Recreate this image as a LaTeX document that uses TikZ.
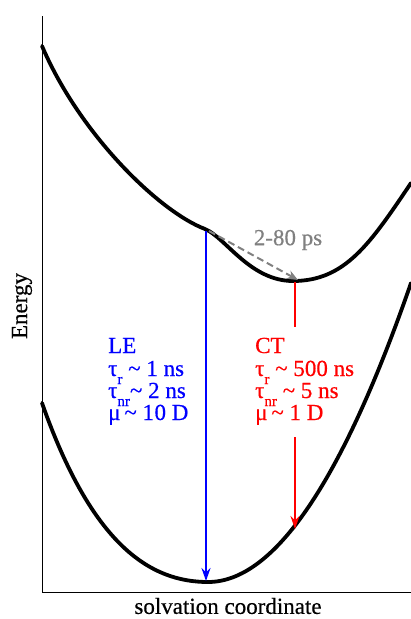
\documentclass[tikz,border=0pt]{standalone}
\usepackage{fontspec}
\setmainfont{Liberation Serif}[BoldFont=Liberation Serif,BoldFeatures={FakeBold=0.5}]
\usetikzlibrary{arrows.meta}
\newcommand{\sublow}[1]{\raisebox{-8pt}{\fontsize{15}{15}\selectfont #1}}

\begin{document}
\begin{tikzpicture}[x=1pt,y=-1pt,>=Stealth,font=\fontsize{23}{25}\selectfont\bfseries,
  curve/.style={line width=3.8pt,line cap=round,line join=round},
  axis/.style={line width=0.8pt},
  trans/.style={->,line width=2pt,shorten >=1pt,-{Stealth[length=13pt,width=9pt]}},
  info/.style={anchor=base west,inner sep=0pt}]
 \useasboundingbox (0,0) rectangle (411,619);
 % axes
 \coordinate (o) at (42,592);
 \coordinate (ytop) at (42,16);
 \coordinate (xend) at (411,592);
 \draw[axis] (ytop)--(o)--(xend);
 \node[rotate=90] (en) at (22,306){Energy};
 \node (sc) at (228,606){solvation coordinate};
 % excited state surface
 \draw[curve] (42,46) .. controls (80,135) and (160,212) .. (205,229)
   .. controls (225,237) and (250,281) .. (293,281)
   .. controls (345,281) and (370,244) .. (411,183);
 % ground state surface
 \draw[curve] (42,403) .. controls (92,545) and (150,582) .. (208,582)
   .. controls (274,582) and (342,482) .. (411,283);
 % transitions
 \coordinate (le) at (206,231);
 \coordinate (le0) at (206,582);
 \coordinate (ct) at (295,282);
 \coordinate (ct0) at (295,530);
 \draw[trans,blue] (le)--(le0);
 \draw[trans,red] (ct)--(ct0);
 \draw[->,gray,dashed,line width=2pt,dash pattern=on 7pt off 4pt,-{Stealth[length=11pt,width=9pt]}] (209,231)--(298,280);
 \node[gray] (et) at (288,240){2-80 ps};
 % LE properties
 \node[info,blue] (le1) at (108,353){LE};
 \node[info,blue] (le2) at (108,376){τ\sublow{r} \textasciitilde{} 1 ns};
 \node[info,blue] (le3) at (108,398){τ\sublow{nr}\textasciitilde{} 2 ns};
 \node[info,blue] (le4) at (108,420){μ\,\textasciitilde{} 1\kern0.5pt0 D};
 % CT properties
 \node[fill=white,inner sep=0pt,anchor=north,minimum width=30pt,minimum height=110pt] (ctbg) at (295,327){};
 \node[info,red] (ct1) at (255,353){CT};
 \node[info,red] (ct2) at (255,376){τ\sublow{r} \textasciitilde{} 500 ns};
 \node[info,red] (ct3) at (255,398){τ\sublow{nr} \textasciitilde{} 5 ns};
 \node[info,red] (ct4) at (255,420){μ\,\textasciitilde{} 1 D};
\end{tikzpicture}
\end{document}
